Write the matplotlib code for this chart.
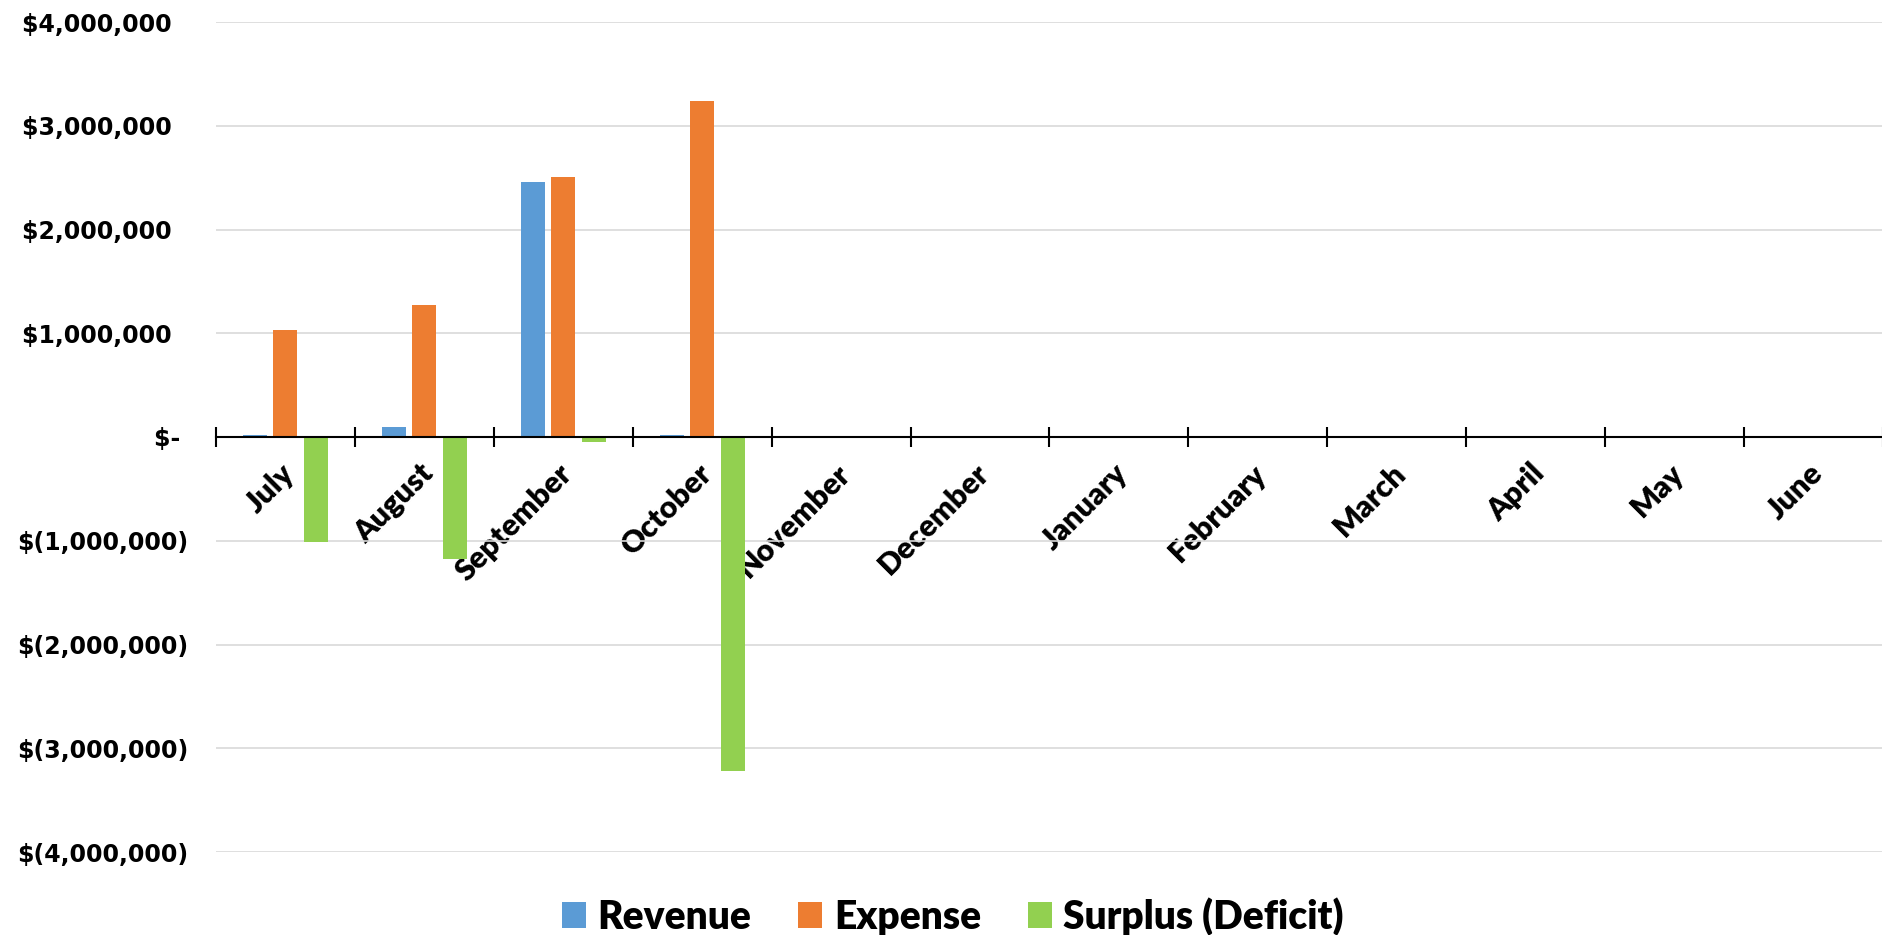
import numpy as np
import matplotlib
matplotlib.use("Agg")
from matplotlib import pyplot as plt
from matplotlib.ticker import FuncFormatter, FixedLocator

# months of the fiscal year
months = ["July", "August", "September", "October", "November", "December",
          "January", "February", "March", "April", "May", "June"]
# values (only Jul-Oct have data)
revenue = [20000, 100000, 2458000, 20000, 0, 0, 0, 0, 0, 0, 0, 0]
expense = [1035000, 1275000, 2503000, 3240000, 0, 0, 0, 0, 0, 0, 0, 0]
surplus = [-1015000, -1175000, -45000, -3220000, 0, 0, 0, 0, 0, 0, 0, 0]

yticks = [-4000000, -3000000, -2000000, -1000000, 0, 1000000, 2000000, 3000000, 4000000]

fig = plt.figure(figsize=(18.83, 9.35), dpi=100)
ax = fig.add_axes([216/1883, 1-852/935, 1-216/1883, (852-22)/935])

x = np.arange(len(months))
w = 0.173
ax.bar(x - 0.22, revenue, w, color="#5B9BD5", label="Revenue", zorder=3)
ax.bar(x, expense, w, color="#ED7D31", label="Expense", zorder=3)
ax.bar(x + 0.22, surplus, w, color="#92D050", label="Surplus (Deficit)", zorder=3)

ax.set_xlim(-0.5, len(months) - 0.5)
ax.set_ylim(-4000000, 4000000)

# y axis, accounting style labels
def money(v, pos):
    if v == 0:
        return "$- "
    if v < 0:
        return "$({:,.0f})".format(-v)
    return "${:,.0f}  ".format(v)

ax.yaxis.set_major_locator(FixedLocator(yticks))
ax.yaxis.set_major_formatter(FuncFormatter(money))
ax.tick_params(axis="y", length=0, pad=20)
for lab in ax.get_yticklabels():
    lab.set_fontsize(17)
    lab.set_fontweight("bold")
    lab.set_family("DejaVu Sans")
ax.grid(axis="y", color="#d9d9d9", linewidth=1.2, zorder=0)

# x axis sits on zero
for s in ["top", "right", "left"]:
    ax.spines[s].set_visible(False)
ax.spines["bottom"].set_position(("data", 0))
ax.spines["bottom"].set_linewidth(1.5)
ax.spines["bottom"].set_zorder(4)

ax.set_xticks(np.arange(len(months) + 1) - 0.5)
ax.set_xticklabels([])
ax.tick_params(axis="x", which="major", direction="inout", length=14, width=1.5)
ax.set_xticks(x - 0.04, months, minor=True)
ax.tick_params(axis="x", which="minor", length=0, pad=16)
for lab in ax.get_xticklabels(minor=True):
    lab.set_rotation(45)
    lab.set_ha("right")
    lab.set_rotation_mode("anchor")
    lab.set_fontsize(22)
    lab.set_fontweight("heavy")
    lab.set_family("Lato")

fig.legend(loc="center", bbox_to_anchor=(0.506, 0.02), ncol=3, frameon=False,
           prop={"family": "Lato", "weight": "heavy", "size": 28},
           handlelength=0.62, handleheight=0.62, handletextpad=0.3, columnspacing=1.2)

plt.savefig("out.png", dpi=100)
